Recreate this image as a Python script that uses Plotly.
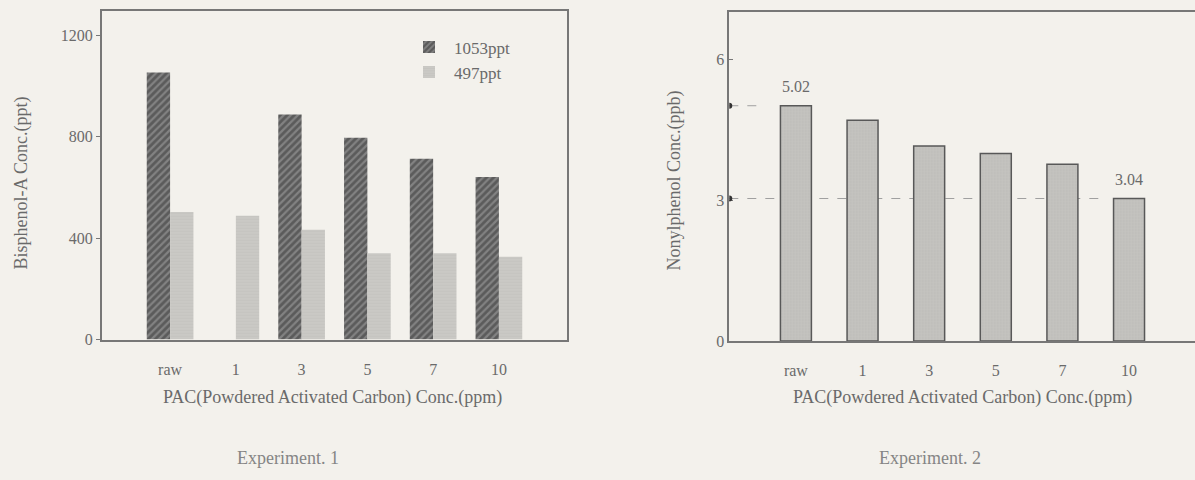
import plotly.graph_objects as go

# ---- data ----
categories = ["raw", "1", "3", "5", "7", "10"]
bpa_1053 = [1053, None, 887, 795, 713, 641]
bpa_497 = [503, 488, 433, 340, 340, 326]
series_names = ["1053ppt", "497ppt"]
np_conc = [5.02, 4.71, 4.16, 4.00, 3.77, 3.04]
left_yticks = [0, 400, 800, 1200]
right_yticks = [0, 3, 6]
x_title = "PAC(Powdered Activated Carbon) Conc.(ppm)"
left_y_title = "Bisphenol-A Conc.(ppt)"
right_y_title = "Nonylphenol Conc.(ppb)"
captions = ["Experiment. 1", "Experiment. 2"]

W, H = 1195, 480
BG = "#f3f1ec"
TXT = "#6a6a6a"
AX = "#777777"
FONT = "Liberation Serif"

def px(x):
    return x / W

def py(y):
    return 1 - y / H

fig = go.Figure()

# left chart bars
fig.add_trace(go.Bar(
    x=categories, y=bpa_1053, name=series_names[0], xaxis="x", yaxis="y",
    width=0.355, offset=-0.355,
    marker=dict(color="#828282", line=dict(width=0),
                pattern=dict(shape="/", fgcolor="#333333", size=5, solidity=0.55)),
))
fig.add_trace(go.Bar(
    x=categories, y=bpa_497, name=series_names[1], xaxis="x", yaxis="y",
    width=0.355, offset=0,
    marker=dict(color="#cac9c5", line=dict(width=0),
                pattern=dict(shape="-", fgcolor="#bfbeba", size=3, solidity=0.3)),
))

# right chart bars
fig.add_trace(go.Bar(
    x=categories, y=np_conc, xaxis="x2", yaxis="y2", showlegend=False,
    width=0.465,
    marker=dict(color="#c4c3bf", line=dict(width=1.5, color="#585858"),
                pattern=dict(shape=".", fgcolor="#b4b3af", size=3, solidity=0.3)),
))

# reference dashed lines and dots for first / last nonylphenol values
last = len(categories) - 1
ref_idx = [0, last]
ref_ends = [-0.575, last - 0.33]
shapes = []
for i, xe in zip(ref_idx, ref_ends):
    v = np_conc[i]
    shapes.append(dict(type="line", xref="x2", yref="y2", x0=-1, x1=xe, y0=v, y1=v,
                       line=dict(color="#a0a0a0", width=1, dash="dash"), layer="below"))
    shapes.append(dict(type="circle", xref="x2", yref="y2", xsizemode="pixel", ysizemode="pixel",
                       xanchor=-1, yanchor=v, x0=-3, x1=3, y0=-3, y1=3,
                       fillcolor="#333333", line=dict(width=0)))

annotations = []
for i in ref_idx:
    annotations.append(dict(x=i, y=np_conc[i], xref="x2", yref="y2",
                            text=f"{np_conc[i]:.2f}", showarrow=False, yshift=19,
                            xanchor="center", yanchor="middle",
                            font=dict(size=16, color=TXT, family=FONT)))

def note(x, y, text, size, color=TXT, angle=0):
    return dict(x=px(x), y=py(y), xref="paper", yref="paper", text=text, showarrow=False,
                xanchor="center", yanchor="middle", textangle=angle,
                font=dict(size=size, color=color, family=FONT))

# axis titles and captions
annotations += [
    note(332, 405, x_title, 18),
    note(962, 405, x_title, 18),
    note(21, 187, left_y_title, 18, angle=-90),
    note(675, 184, right_y_title, 18, angle=-90),
    note(288, 467, captions[0], 18, color="#858585"),
    note(930, 467, captions[1], 18, color="#858585"),
]

axis_common = dict(showgrid=False, zeroline=False, showline=True, linecolor=AX, linewidth=1.5,
                   tickfont=dict(size=16, color=TXT, family=FONT))

fig.update_layout(
    width=W, height=H,
    margin=dict(l=0, r=0, t=0, b=0),
    paper_bgcolor=BG, plot_bgcolor=BG,
    barmode="group",
    showlegend=True,
    legend=dict(x=px(404), y=py(30), xanchor="left", yanchor="top",
                bgcolor="rgba(0,0,0,0)", font=dict(size=17, color=TXT, family=FONT),
                itemwidth=40, tracegroupgap=0),
    xaxis=dict(domain=[px(101.7), px(567.3)], anchor="y", range=[-1.04, 6.04],
               ticks="", ticklabelstandoff=15, mirror=True, **axis_common),
    yaxis=dict(domain=[py(346), py(11)], anchor="x", range=[0, 1296],
               tickvals=left_yticks, ticks="outside", ticklen=4, tickcolor=AX,
               mirror=True, **axis_common),
    xaxis2=dict(domain=[px(729.3), 1.0], anchor="y2", range=[-1.0, 5.99],
                ticks="", ticklabelstandoff=14, mirror=True, **axis_common),
    yaxis2=dict(domain=[py(347.5), py(12.7)], anchor="x2", range=[0, 7.01],
                tickvals=right_yticks, ticks="inside", ticklen=4, tickcolor=AX,
                **axis_common),
    shapes=shapes,
    annotations=annotations,
)

fig.write_html(
    "out.html",
    config={"displayModeBar": False},
    post_script=(
        "var d=document.documentElement,b=document.body;"
        "d.style.margin='0';d.style.padding='0';d.style.overflow='hidden';"
        "b.style.margin='0';b.style.padding='0';b.style.overflow='hidden';"
        "d.style.background='#f3f1ec';b.style.background='#f3f1ec';"
    ),
)
